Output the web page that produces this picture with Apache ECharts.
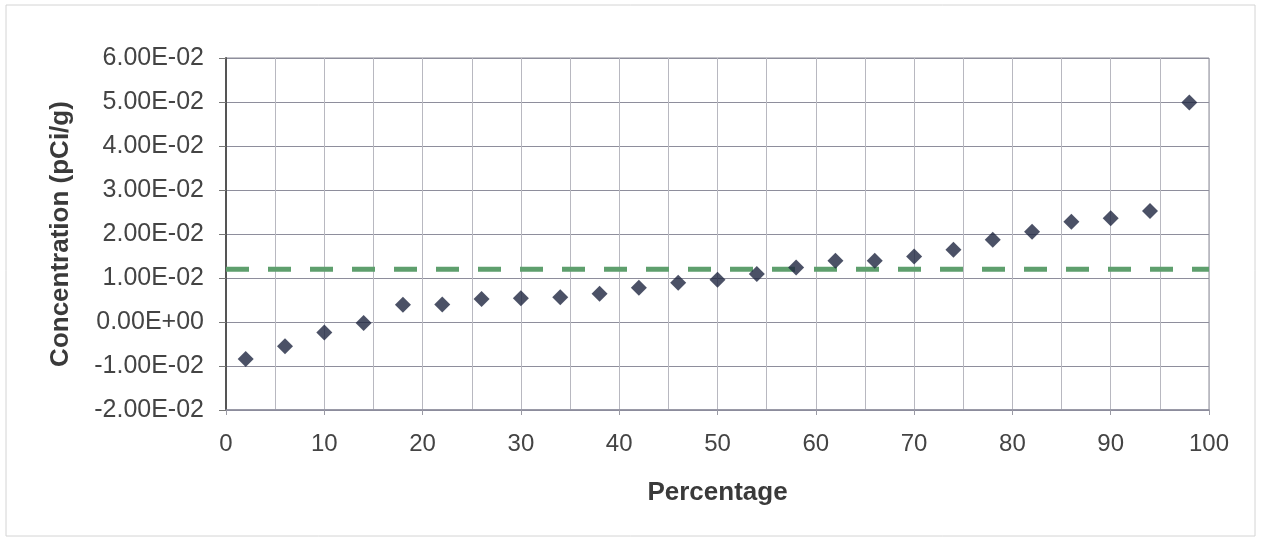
<!DOCTYPE html>
<html>
<head>
<meta charset="utf-8">
<script src="https://cdn.jsdelivr.net/npm/echarts@6/dist/echarts.min.js"></script>
<style>
html, body { margin: 0; padding: 0; background: #fff; }
#chart { width: 1262px; height: 548px; }
</style>
</head>
<body>
<div id="chart"></div>
<script>
// percentile positions of the samples
var percentages = [2, 6, 10, 14, 18, 22, 26, 30, 34, 38, 42, 46, 50, 54, 58, 62, 66, 70, 74, 78, 82, 86, 90, 94, 98];
// measured concentration, pCi/g
var concentrations = [-0.0084, -0.0055, -0.0024, -0.0002, 0.0039, 0.0040, 0.0052, 0.0054, 0.0056, 0.0064,
	0.0078, 0.0089, 0.0096, 0.0109, 0.0124, 0.0139, 0.0139, 0.0149, 0.0164, 0.0187,
	0.0205, 0.0228, 0.0236, 0.0252, 0.0499];
// dashed reference level
var refX = [0, 100];
var refY = [0.012, 0.012];

var xTitle = 'Percentage';
var yTitle = 'Concentration (pCi/g)';
var font = '"Liberation Sans", Arial, sans-serif';

// 0.05 -> "5.00E-02"
function sci(v) {
	if (Math.abs(v) < 1e-12) {
		return '0.00E+00';
	}
	var e = Math.floor(Math.log10(Math.abs(v)) + 1e-9);
	var m = v / Math.pow(10, e);
	var es = Math.abs(e) < 10 ? '0' + Math.abs(e) : '' + Math.abs(e);
	return m.toFixed(2) + 'E' + (e < 0 ? '-' : '+') + es;
}

var points = percentages.map(function(p, i) { return [p, concentrations[i]]; });
var refLine = refX.map(function(x, i) { return [x, refY[i]]; });

var myChart = echarts.init(document.getElementById('chart'));
var option = {
	animation: false,
	textStyle: { fontFamily: font },
	grid: {
		left: 226,
		right: 53,
		top: 58,
		bottom: 138,
		show: true,
		borderColor: '#8c8c96',
		borderWidth: 1
	},
	graphic: [{
		type: 'rect',
		shape: { x: 6, y: 5, width: 1249, height: 531 },
		style: { fill: 'none', stroke: '#d4d4d4', lineWidth: 1 },
		silent: true
	}],
	xAxis: {
		type: 'value',
		min: 0,
		max: 100,
		interval: 10,
		name: xTitle,
		nameLocation: 'middle',
		nameGap: 70,
		nameTextStyle: { fontSize: 26, fontWeight: 'bold', color: '#3a3a3a', fontFamily: font },
		axisLine: { show: true, onZero: false, lineStyle: { color: '#8c8c9c', width: 1.5 } },
		axisTick: { show: true, length: 5, lineStyle: { color: '#9a9aa4' } },
		minorTick: { show: false, splitNumber: 2 },
		axisLabel: { fontSize: 24, color: '#444', margin: 22, fontFamily: font },
		splitLine: { show: true, lineStyle: { color: '#b8b8c0', width: 1 } },
		minorSplitLine: { show: true, lineStyle: { color: '#b8b8c0', width: 1 } }
	},
	yAxis: {
		type: 'value',
		min: -0.02,
		max: 0.06,
		interval: 0.01,
		name: yTitle,
		nameLocation: 'middle',
		nameGap: 152,
		nameRotate: 90,
		nameTextStyle: { fontSize: 26, fontWeight: 'bold', color: '#3a3a3a', fontFamily: font },
		axisLine: { show: true, onZero: false, lineStyle: { color: '#555', width: 2 } },
		axisTick: { show: true, length: 7, lineStyle: { color: '#777' } },
		axisLabel: { fontSize: 25, color: '#444', margin: 22, fontFamily: font, formatter: sci },
		splitLine: { show: true, lineStyle: { color: '#8e8e9c', width: 1 } }
	},
	series: [
		{
			name: 'reference',
			type: 'line',
			data: refLine,
			symbol: 'none',
			z: 2,
			lineStyle: { color: '#5e9f6d', width: 5, type: [23, 19] }
		},
		{
			name: 'concentration',
			type: 'scatter',
			data: points,
			symbol: 'diamond',
			symbolSize: 16,
			z: 3,
			itemStyle: { color: '#1e2540' }
		}
	]
};
myChart.setOption(option);
</script>
</body>
</html>
